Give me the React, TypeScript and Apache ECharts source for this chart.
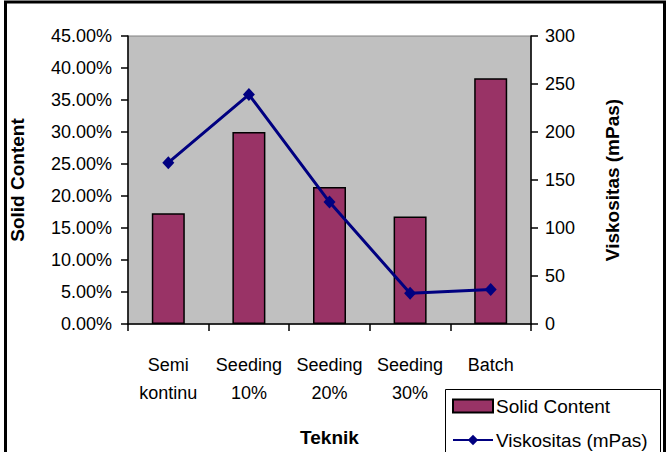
import React, { useEffect, useRef } from "react";
import * as echarts from "echarts";

const categories = ["Semi\nkontinu", "Seeding\n10%", "Seeding\n20%", "Seeding\n30%", "Batch"];
const solidContent = [17.3, 30.0, 21.4, 16.8, 38.4];
const viskositas = [168, 239, 127, 32, 36];
const leftTicks = { min: 0, max: 45, interval: 5 };
const rightTicks = { min: 0, max: 300, interval: 50 };

const FONT = "'Liberation Sans', Arial, sans-serif";

export default function App() {
  const ref = useRef<HTMLDivElement>(null);
  useEffect(() => {
    document.body.style.margin = "0";
    const chart = echarts.init(ref.current!, null, { renderer: "svg" });
    chart.setOption({
      animation: false,
      backgroundColor: "#ffffff",
      textStyle: { fontFamily: FONT, color: "#000" },
      grid: {
        left: 128,
        right: 137,
        top: 36,
        bottom: 119,
        show: true,
        backgroundColor: "#C0C0C0",
        borderColor: "#808080",
        borderWidth: 1,
      },
      legend: {
        orient: "vertical",
        left: 452,
        top: 396,
        width: 210,
        height: 56,
        padding: 0,
        itemWidth: 40,
        itemHeight: 13,
        itemGap: 14,
        textStyle: { fontFamily: FONT, fontSize: 19, color: "#000", padding: [0, 0, 0, -2], lineHeight: 20 },
        data: [
          { name: "Solid Content", icon: "rect" },
          { name: "Viskositas (mPas)" },
        ],
      },
      xAxis: {
        type: "category",
        data: categories,
        name: "Teknik",
        nameLocation: "middle",
        nameGap: 104,
        nameTextStyle: { fontFamily: FONT, fontSize: 19, fontWeight: "bold", color: "#000" },
        axisLine: { lineStyle: { color: "#000", width: 1.5 } },
        axisTick: { show: true, length: 7, lineStyle: { color: "#000", width: 1.5 } },
        axisLabel: { interval: 0, fontFamily: FONT, fontSize: 18, color: "#000", lineHeight: 28, margin: 27 },
        splitLine: { show: false },
      },
      yAxis: [
        {
          type: "value",
          ...leftTicks,
          position: "left",
          name: "Solid Content",
          nameLocation: "middle",
          nameRotate: 90,
          nameGap: 101,
          nameTextStyle: { fontFamily: FONT, fontSize: 19, fontWeight: "bold", color: "#000" },
          axisLine: { show: true, lineStyle: { color: "#000", width: 1.5 } },
          axisTick: { show: true, length: 7, lineStyle: { color: "#000", width: 1.5 } },
          axisLabel: {
            fontFamily: FONT,
            fontSize: 18,
            color: "#000",
            margin: 16,
            formatter: (v: number) => v.toFixed(2) + "%",
          },
          splitLine: { show: false },
        },
        {
          type: "value",
          ...rightTicks,
          position: "right",
          name: "Viskositas (mPas)",
          nameLocation: "middle",
          nameRotate: 90,
          nameGap: 72,
          nameTextStyle: { fontFamily: FONT, fontSize: 19, fontWeight: "bold", color: "#000" },
          axisLine: { show: true, lineStyle: { color: "#000", width: 1.5 } },
          axisTick: { show: true, length: 7, lineStyle: { color: "#000", width: 1.5 } },
          axisLabel: { fontFamily: FONT, fontSize: 18, color: "#000", margin: 14 },
          splitLine: { show: false },
        },
      ],
      series: [
        {
          name: "Solid Content",
          type: "bar",
          yAxisIndex: 0,
          data: solidContent,
          barWidth: 33,
          itemStyle: { color: "#993366", borderColor: "#000", borderWidth: 1.5 },
        },
        {
          name: "Viskositas (mPas)",
          type: "line",
          yAxisIndex: 1,
          data: viskositas,
          symbol: "diamond",
          symbolSize: [12, 13],
          lineStyle: { color: "#000080", width: 3 },
          itemStyle: { color: "#000080" },
        },
      ],
      graphic: [
        {
          type: "rect",
          shape: { x: 445.5, y: 389.5, width: 215, height: 80 },
          style: { fill: "#fff", stroke: "#000", lineWidth: 1 },
          silent: true,
          z: -1,
        },
        {
          type: "rect",
          shape: { x: 5.5, y: 2, width: 659, height: 470 },
          style: { fill: "none", stroke: "#000", lineWidth: 3 },
          silent: true,
          z: 100,
        },
      ],
    });
    return () => chart.dispose();
  }, []);
  return (
    <div
      ref={ref}
      style={{ position: "absolute", left: 0, top: 0, width: 668, height: 452 }}
    />
  );
}
